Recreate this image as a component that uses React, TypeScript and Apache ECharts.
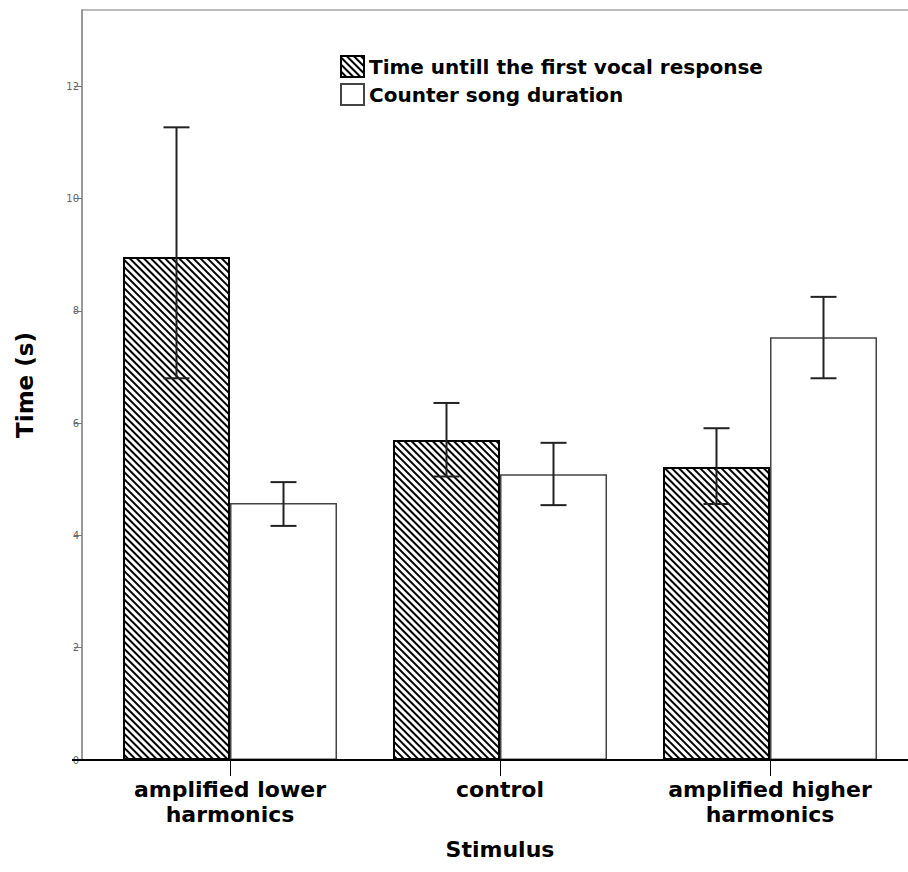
import React, { useEffect, useRef } from "react";
import * as echarts from "echarts";

const categories = ["amplified lower\nharmonics", "control", "amplified higher\nharmonics"];
const seriesNames = ["Time untill the first vocal response", "Counter song duration"];
const responseTime = [8.96, 5.7, 5.22];
const responseLow = [6.8, 5.05, 4.56];
const responseHigh = [11.27, 6.36, 5.91];
const songDuration = [4.58, 5.09, 7.53];
const songLow = [4.17, 4.54, 6.8];
const songHigh = [4.95, 5.65, 8.25];
const yTicks = [0, 2, 4, 6, 8, 10, 12];

const FONT = "DejaVu Sans";
const BAR_W = 107;

function errorSeries(name: string, low: number[], high: number[], dx: number) {
  return {
    type: "custom",
    name,
    z: 10,
    silent: true,
    encode: { x: 0, y: [1, 2] },
    data: low.map((l, i) => [i, l, high[i]]),
    renderItem: (params: any, api: any) => {
      const idx = api.value(0);
      const lo = api.coord([idx, api.value(1)]);
      const hi = api.coord([idx, api.value(2)]);
      const x = lo[0] + dx;
      const cap = 13;
      const style = { stroke: "#222", lineWidth: 2 };
      return {
        type: "group",
        children: [
          { type: "line", shape: { x1: x, y1: lo[1], x2: x, y2: hi[1] }, style },
          { type: "line", shape: { x1: x - cap, y1: hi[1], x2: x + cap, y2: hi[1] }, style },
          { type: "line", shape: { x1: x - cap, y1: lo[1], x2: x + cap, y2: lo[1] }, style },
        ],
      };
    },
  };
}

export default function App() {
  const ref = useRef<HTMLDivElement>(null);
  useEffect(() => {
    document.body.style.margin = "0";
    if (!ref.current) return;
    const chart = echarts.init(ref.current, null, { renderer: "svg" });
    const hatch = {
      symbol: "rect",
      symbolSize: 1,
      color: "#000",
      backgroundColor: "#fff",
      dashArrayX: [1, 0],
      dashArrayY: [2, 3],
      rotation: Math.PI / 4,
    };
    chart.setOption({
      animation: false,
      backgroundColor: "#fff",
      grid: { left: 95, right: 3, top: 10, bottom: 112 },
      legend: {
        data: seriesNames,
        orient: "vertical",
        left: 340,
        top: 55,
        padding: 0,
        itemWidth: 23,
        itemHeight: 21,
        itemGap: 5,
        icon: "rect",
        textStyle: { fontFamily: FONT, fontWeight: "bold", fontSize: 20, color: "#000" },
      },
      xAxis: {
        type: "category",
        data: categories,
        name: "Stimulus",
        nameLocation: "middle",
        nameGap: 78,
        nameTextStyle: { fontFamily: FONT, fontWeight: "bold", fontSize: 22, color: "#000" },
        axisLine: { show: true, lineStyle: { color: "#000", width: 2 } },
        axisTick: { show: true, alignWithLabel: true, length: 16, lineStyle: { color: "#000", width: 1 } },
        axisLabel: {
          margin: 17,
          fontFamily: FONT,
          fontWeight: "bold",
          fontSize: 22,
          lineHeight: 25,
          color: "#000",
        },
        splitLine: { show: false },
      },
      yAxis: {
        type: "value",
        min: 0,
        max: 13.36,
        interval: 2,
        offset: 13,
        name: "Time (s)",
        nameLocation: "middle",
        nameGap: 46,
        nameTextStyle: { fontFamily: FONT, fontWeight: "bold", fontSize: 23, color: "#000" },
        axisLine: { show: true, lineStyle: { color: "#999", width: 2 } },
        axisTick: { show: true, length: 8, lineStyle: { color: "#777" } },
        axisLabel: {
          margin: 3,
          fontFamily: FONT,
          fontSize: 10,
          color: "#666",
          showMaxLabel: false,
          formatter: (v: number) => (yTicks.includes(v) ? String(v) : ""),
        },
        splitLine: { show: false },
      },
      graphic: [
        { type: "line", shape: { x1: 82, y1: 10, x2: 908, y2: 10 }, style: { stroke: "#bbb", lineWidth: 2 } },
        { type: "line", shape: { x1: 72, y1: 760, x2: 908, y2: 760 }, style: { stroke: "#000", lineWidth: 2 }, z: 20 },
      ],
      series: [
        {
          type: "bar",
          name: seriesNames[0],
          data: responseTime,
          barWidth: BAR_W,
          barGap: "0%",
          itemStyle: { color: "#fff", borderColor: "#000", borderWidth: 2, decal: hatch },
        },
        {
          type: "bar",
          name: seriesNames[1],
          data: songDuration,
          barWidth: BAR_W,
          barGap: "0%",
          itemStyle: { color: "#fff", borderColor: "#444", borderWidth: 1.5 },
        },
        errorSeries("err1", responseLow, responseHigh, -BAR_W / 2),
        errorSeries("err2", songLow, songHigh, BAR_W / 2),
      ],
    });
    return () => chart.dispose();
  }, []);
  return <div ref={ref} style={{ width: 908, height: 872 }} />;
}
